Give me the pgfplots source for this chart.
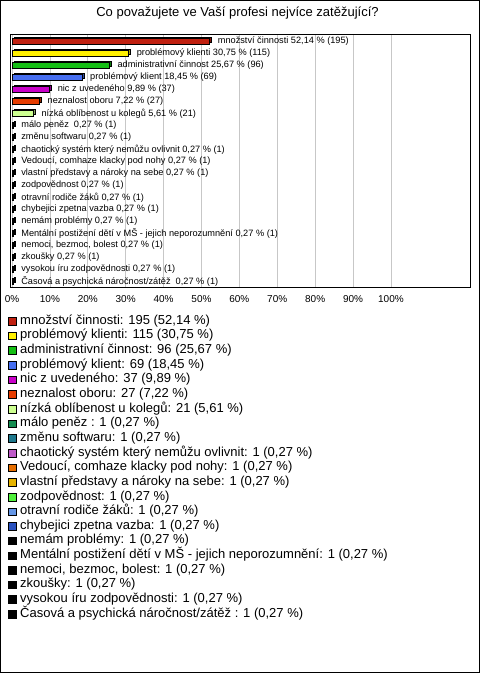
\documentclass[border=0pt]{standalone}
\usepackage{fontspec}
\setmainfont{Liberation Sans}
\usepackage{pgfplots}
\pgfplotsset{compat=1.18}
\definecolor{c1}{RGB}{192,32,16}
\definecolor{c2}{RGB}{255,240,0}
\definecolor{c3}{RGB}{20,190,20}
\definecolor{c4}{RGB}{70,110,240}
\definecolor{c5}{RGB}{200,0,200}
\definecolor{c6}{RGB}{230,60,0}
\definecolor{c7}{RGB}{205,255,145}
\definecolor{c8}{RGB}{20,140,80}
\definecolor{c9}{RGB}{30,120,140}
\definecolor{c10}{RGB}{190,90,200}
\definecolor{c11}{RGB}{230,110,0}
\definecolor{c12}{RGB}{230,180,0}
\definecolor{c13}{RGB}{80,240,60}
\definecolor{c14}{RGB}{100,150,230}
\definecolor{c15}{RGB}{40,80,190}
\newcommand{\cat}[5]{%
\addplot[xbar, bar width=5.5pt, bar shift=0pt, fill=#3!65!black, draw=black, line width=0.6pt, xshift=2pt, yshift=1.8pt, forget plot] coordinates {(#2,#1)};
\addplot[xbar, bar width=5.5pt, bar shift=0pt, fill=#3, draw=black, line width=0.6pt, nodes near coords={#4},
  legend image code/.code={\draw[fill=#3, draw=black, line width=0.6pt] (0pt,-3.8pt) rectangle (7.6pt,3.8pt);}] coordinates {(#2,#1)};
\addlegendentry{#5}}
\begin{document}
\begin{tikzpicture}
\useasboundingbox (0,0) rectangle (480pt,673pt);
\draw[line width=1pt] (0.5pt,0.5pt) rectangle (479.5pt,672.5pt);
\begin{axis}[
 at={(10.5pt,386pt)}, anchor=south west,
 width=460pt, height=253pt, scale only axis,
 xmin=-0.4, xmax=121, ymin=-0.625, ymax=20.46, y dir=reverse,
 xtick={0,10,...,100},
 xticklabels={0\%,10\%,20\%,30\%,40\%,50\%,60\%,70\%,80\%,90\%,100\%},
 major tick length=0pt,
 ytick=\empty,
 xmajorgrids, grid style={draw=black!22, line width=0.8pt},
 axis line style={line width=1pt},
 xticklabel style={font=\fontsize{10}{12}\selectfont, anchor=base, yshift=-15.5pt},
 title={Co považujete ve Vaší profesi nejvíce zatěžující?},
 title style={at={(axis description cs:0.4935,1)}, anchor=base, yshift=11.5pt, font=\fontsize{13}{15}\selectfont},
 every node near coord/.append style={anchor=west, inner sep=0pt, xshift=8pt, font=\fontsize{9.2}{10}\selectfont},
 legend style={at={(axis description cs:-0.0054,-0.1095)}, anchor=north west, draw=none, fill=none,
   inner sep=0pt, outer sep=0pt, font=\fontsize{13}{15}\selectfont,
   nodes={inner sep=0pt, text height=9.5pt, text depth=3.5pt}, row sep=1.65pt,
   /tikz/every odd column/.append style={column sep=4pt}},
 legend cell align=left,
 clip=false,
]
\cat{0}{52.14}{c1}{množství činnosti 52,14 \% (195)}{množství činnosti: 195 (52,14 \%)}
\cat{1}{30.75}{c2}{problémový klienti 30,75 \% (115)}{problémový klienti: 115 (30,75 \%)}
\cat{2}{25.67}{c3}{administrativní činnost 25,67 \% (96)}{administrativní činnost: 96 (25,67 \%)}
\cat{3}{18.45}{c4}{problémový klient 18,45 \% (69)}{problémový klient: 69 (18,45 \%)}
\cat{4}{9.89}{c5}{nic z uvedeného 9,89 \% (37)}{nic z uvedeného: 37 (9,89 \%)}
\cat{5}{7.22}{c6}{neznalost oboru 7,22 \% (27)}{neznalost oboru: 27 (7,22 \%)}
\cat{6}{5.61}{c7}{nízká oblíbenost u kolegů 5,61 \% (21)}{nízká oblíbenost u kolegů: 21 (5,61 \%)}
\cat{7}{0.27}{c8}{málo peněz\ \ 0,27 \% (1)}{málo peněz : 1 (0,27 \%)}
\cat{8}{0.27}{c9}{změnu softwaru 0,27 \% (1)}{změnu softwaru: 1 (0,27 \%)}
\cat{9}{0.27}{c10}{chaotický systém který nemůžu ovlivnit 0,27 \% (1)}{chaotický systém který nemůžu ovlivnit: 1 (0,27 \%)}
\cat{10}{0.27}{c11}{Vedoucí, comhaze klacky pod nohy 0,27 \% (1)}{Vedoucí, comhaze klacky pod nohy: 1 (0,27 \%)}
\cat{11}{0.27}{c12}{vlastní představy a nároky na sebe 0,27 \% (1)}{vlastní představy a nároky na sebe: 1 (0,27 \%)}
\cat{12}{0.27}{c13}{zodpovědnost 0,27 \% (1)}{zodpovědnost: 1 (0,27 \%)}
\cat{13}{0.27}{c14}{otravní rodiče žáků 0,27 \% (1)}{otravní rodiče žáků: 1 (0,27 \%)}
\cat{14}{0.27}{c15}{chybejici zpetna vazba 0,27 \% (1)}{chybejici zpetna vazba: 1 (0,27 \%)}
\cat{15}{0.27}{black}{nemám problémy 0,27 \% (1)}{nemám problémy: 1 (0,27 \%)}
\cat{16}{0.27}{black}{Mentální postižení dětí v MŠ - jejich neporozumnění 0,27 \% (1)}{Mentální postižení dětí v MŠ - jejich neporozumnění: 1 (0,27 \%)}
\cat{17}{0.27}{black}{nemoci, bezmoc, bolest 0,27 \% (1)}{nemoci, bezmoc, bolest: 1 (0,27 \%)}
\cat{18}{0.27}{black}{zkoušky 0,27 \% (1)}{zkoušky: 1 (0,27 \%)}
\cat{19}{0.27}{black}{vysokou íru zodpovědnosti 0,27 \% (1)}{vysokou íru zodpovědnosti: 1 (0,27 \%)}
\cat{20}{0.27}{black}{Časová a psychická náročnost/zátěž\ \ 0,27 \% (1)}{Časová a psychická náročnost/zátěž : 1 (0,27 \%)}
\end{axis}
\end{tikzpicture}
\end{document}
